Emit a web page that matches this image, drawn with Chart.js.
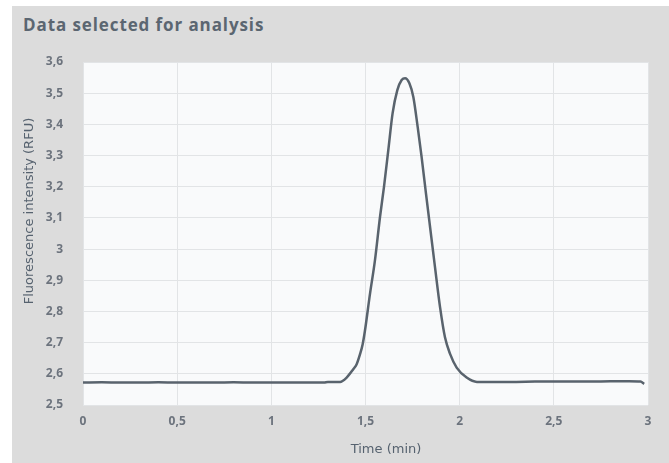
<!DOCTYPE html>
<html>
<head>
<meta charset="utf-8">
<script src="https://cdn.jsdelivr.net/npm/chart.js@4.4.1/dist/chart.umd.min.js"></script>
<style>
  html, body { margin: 0; padding: 0; background: #ffffff; }
  #panel {
    position: absolute; left: 12px; top: 6px; width: 657px; height: 457px;
    background: #dcdcdc;
  }
  #title {
    position: absolute; left: 11px; top: 7px; margin: 0;
    font: bold 17px "Open Sans", sans-serif; letter-spacing: 0.9px; color: #5b6671;
  }
  #wrap { position: absolute; left: 0; top: 0; width: 657px; height: 457px; }
</style>
</head>
<body>
<div id="panel">
  <div id="title">Data selected for analysis</div>
  <div id="wrap"><canvas id="chart"></canvas></div>
</div>
<script>
// time (min) and fluorescence intensity (RFU)
const timeMin = [
  0, 0.1, 0.2, 0.3, 0.4, 0.5, 0.6, 0.7, 0.8, 0.9, 1.0, 1.1, 1.2, 1.28, 1.3,
  1.365, 1.4, 1.435, 1.453, 1.471, 1.485, 1.497, 1.524, 1.55, 1.577, 1.598,
  1.621, 1.644, 1.669, 1.692, 1.71, 1.733, 1.754, 1.777, 1.798, 1.821, 1.843,
  1.869, 1.896, 1.922, 1.949, 1.984, 2.037, 2.092, 2.2, 2.3, 2.4, 2.5, 2.6,
  2.7, 2.8, 2.9, 2.96, 2.98
];
const intensity = [
  2.572, 2.573, 2.572, 2.572, 2.573, 2.572, 2.572, 2.572, 2.573, 2.572, 2.572, 2.572, 2.572, 2.572, 2.574,
  2.574, 2.588, 2.615, 2.631, 2.663, 2.695, 2.738, 2.857, 2.963, 3.103, 3.199,
  3.317, 3.436, 3.510, 3.542, 3.548, 3.532, 3.488, 3.392, 3.295, 3.179, 3.070,
  2.942, 2.813, 2.717, 2.664, 2.620, 2.588, 2.574, 2.574, 2.574, 2.575, 2.575, 2.575,
  2.575, 2.576, 2.576, 2.575, 2.568
];
const xTickLabels = ["0", "0,5", "1", "1,5", "2", "2,5", "3"];
const yTickLabels = ["2,5", "2,6", "2,7", "2,8", "2,9", "3", "3,1", "3,2", "3,3", "3,4", "3,5", "3,6"];
const xTitle = "Time (min)";
const yTitle = "Fluorescence intensity (RFU)";

const points = timeMin.map((t, i) => ({ x: t, y: intensity[i] }));

const tickFont = { family: "'Open Sans', sans-serif", size: 12, weight: "bold" };
const titleFont = "13px 'DejaVu Sans', sans-serif";

const plotBackground = {
  id: "plotBackground",
  beforeDraw(chart) {
    const { ctx, chartArea: a } = chart;
    ctx.save();
    ctx.fillStyle = "#f9fafb";
    ctx.fillRect(a.left, a.top, a.right - a.left, a.bottom - a.top);
    ctx.restore();
  }
};

// axis titles sit a little off the plot centre in the original
const axisTitles = {
  id: "axisTitles",
  afterDraw(chart) {
    const ctx = chart.ctx;
    ctx.save();
    ctx.fillStyle = "#56626f";
    ctx.font = titleFont;
    ctx.textAlign = "center";
    ctx.textBaseline = "middle";
    ctx.fillText(xTitle, 374, 444);
    ctx.translate(18, 205);
    ctx.rotate(-Math.PI / 2);
    ctx.fillText(yTitle, 0, 0);
    ctx.restore();
  }
};

new Chart(document.getElementById("chart"), {
  type: "line",
  data: {
    datasets: [{
      data: points,
      borderColor: "#59636d",
      borderWidth: 2.5,
      pointRadius: 0,
      cubicInterpolationMode: "monotone",
      fill: false
    }]
  },
  options: {
    responsive: true,
    maintainAspectRatio: false,
    animation: false,
    layout: { padding: { top: 56, right: 21, left: 0, bottom: 0 } },
    plugins: { legend: { display: false }, tooltip: { enabled: false } },
    scales: {
      x: {
        type: "linear",
        min: 0,
        max: 3,
        afterFit: (scale) => { scale.height = 58; },
        grid: { color: "#e2e4e6", drawTicks: false },
        border: { display: false },
        ticks: {
          stepSize: 0.5,
          padding: 9,
          color: "#6c737d",
          font: tickFont,
          maxRotation: 0,
          callback: (value, index) => xTickLabels[index]
        }
      },
      y: {
        min: 2.5,
        max: 3.6,
        afterFit: (scale) => { scale.width = 71; },
        grid: { color: "#e2e4e6", drawTicks: false },
        border: { display: false },
        ticks: {
          stepSize: 0.1,
          padding: 20,
          color: "#6c737d",
          font: tickFont,
          callback: (value, index) => yTickLabels[index]
        }
      }
    }
  },
  plugins: [plotBackground, axisTitles]
});
</script>
</body>
</html>
